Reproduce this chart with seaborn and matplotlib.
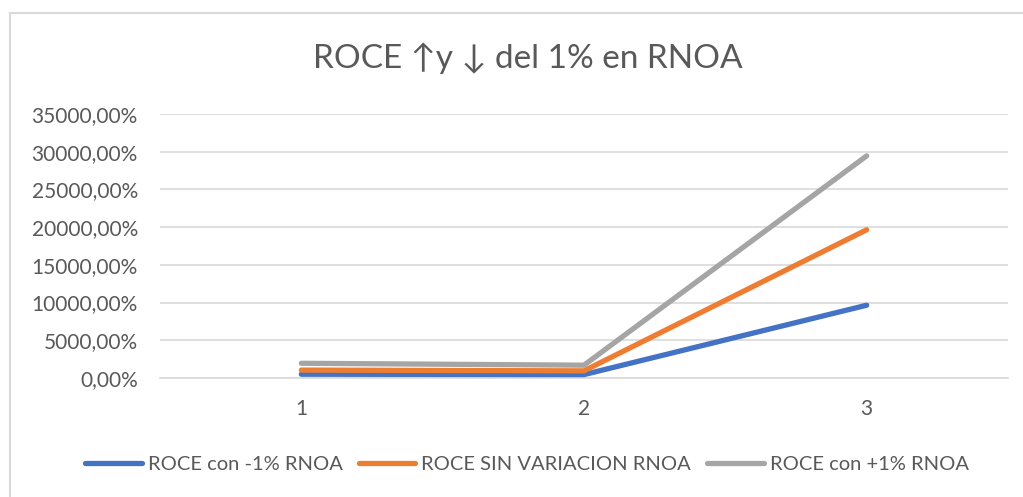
import matplotlib
matplotlib.use("Agg")
import matplotlib.pyplot as plt
import numpy as np
import pandas as pd
import seaborn as sns
from matplotlib.patches import Rectangle
from matplotlib.ticker import FuncFormatter, MultipleLocator

# values (in %)
periods = [1, 2, 3]
roce_menos = [500, 450, 9650]
roce_sin = [1050, 950, 19650]
roce_mas = [1950, 1700, 29450]
series_names = ["ROCE con -1% RNOA", "ROCE SIN VARIACION RNOA", "ROCE con +1% RNOA"]
colors = ["#4472C4", "#ED7D31", "#A5A5A5"]
title = "ROCE \u2191y \u2193 del 1% en RNOA"

df = pd.DataFrame({
    "periodo": periods * 3,
    "valor": roce_menos + roce_sin + roce_mas,
    "serie": np.repeat(series_names, len(periods)),
})

sns.set_theme(style="white")
plt.rcParams["font.family"] = ["Lato", "DejaVu Sans"]
text_col = "#595959"
grid_col = "#D9D9D9"

W, H = 1023, 497
fig = plt.figure(figsize=(W / 100, H / 100), dpi=100)
fig.patch.set_facecolor("white")
ax = fig.add_axes([160 / W, 1 - 378 / H, 848 / W, (378 - 114) / H])

# chart border (partly cut off at right/bottom)
fig.patches.append(Rectangle((10 / W, -0.1), 1.2, 1 - 13 / H + 0.1,
                             transform=fig.transFigure, fill=False,
                             edgecolor=grid_col, linewidth=1.5))

sns.lineplot(data=df, x="periodo", y="valor", hue="serie", palette=colors,
             linewidth=3.8, ax=ax, legend=False, zorder=3)
for line in ax.lines:
    line.set_solid_capstyle("round")
    line.set_solid_joinstyle("round")

ax.set_xlim(0.5, 3.5)
ax.set_ylim(0, 35000)
ax.set_xticks(periods)
ax.yaxis.set_major_locator(MultipleLocator(5000))
ax.yaxis.set_major_formatter(FuncFormatter(lambda v, p: f"{v:.2f}".replace(".", ",") + "%"))
ax.grid(axis="y", color=grid_col, linewidth=1.2)
ax.set_axisbelow(True)
for s in ["top", "right", "left"]:
    ax.spines[s].set_visible(False)
ax.spines["bottom"].set_color(grid_col)
ax.spines["bottom"].set_linewidth(1.2)
ax.tick_params(axis="both", length=0, labelsize=15, colors=text_col)
ax.tick_params(axis="y", pad=16)
ax.tick_params(axis="x", pad=15)
ax.set_xlabel("")
ax.set_ylabel("")

fig.text(528 / W, 1 - 58 / H, title, ha="center", va="center",
         fontsize=24, color=text_col, family=["Lato", "DejaVu Sans"])

handles = [plt.Line2D([], [], color=c, linewidth=3.8, solid_capstyle="round") for c in colors]
leg = fig.legend(handles, series_names, loc="center", ncol=3, frameon=False,
                 bbox_to_anchor=(527 / W, 1 - 464 / H), fontsize=14.5,
                 handlelength=2.8, handletextpad=0.3, columnspacing=0.8)
for t in leg.get_texts():
    t.set_color(text_col)

fig.savefig("out.png", dpi=100, facecolor="white")
